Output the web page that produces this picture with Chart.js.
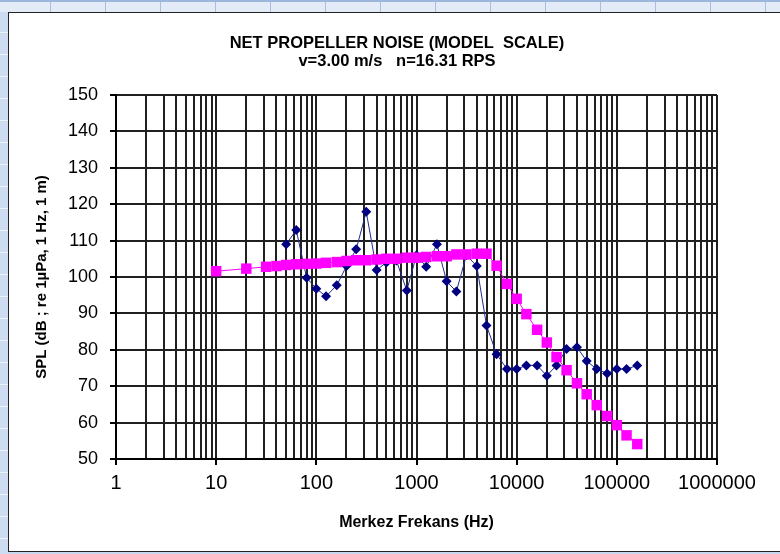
<!DOCTYPE html>
<html>
<head>
<meta charset="utf-8">
<title>Net Propeller Noise</title>
<script src="https://cdn.jsdelivr.net/npm/chart.js@4.4.1/dist/chart.umd.min.js"></script>
<style>
  html, body { margin: 0; padding: 0; width: 780px; height: 554px; overflow: hidden; }
  body { position: relative; background: #c8d8ee; }
  #sheetTop {
    position: absolute; left: 0; top: 0; width: 780px; height: 12px;
    background-color: #e3ebf6;
    background-image: repeating-linear-gradient(90deg, transparent 0 50px, #a9bfdf 50px 51px, transparent 51px 55px);
    border-top: 2px solid #9db6dc; box-sizing: border-box;
  }
  #sheetLeft {
    position: absolute; left: 0; top: 12px; width: 8px; height: 542px;
    background-color: #cddcf0;
    background-image: repeating-linear-gradient(180deg, transparent 0 20px, #edf2fa 20px 21px, transparent 21px 22px);
  }
  #frame {
    position: absolute; left: 8px; top: 12px; width: 800px; height: 540px;
    background: #ffffff; border: 1px solid #222; box-sizing: border-box;
  }
  #plot { position: absolute; left: 0; top: 0; }
</style>
</head>
<body>
<div id="sheetTop"></div>
<div id="sheetLeft"></div>
<div id="frame"></div>
<canvas id="plot" width="780" height="554"></canvas>
<script>
// One-third octave band centre frequencies (Hz) and sound pressure levels (dB)
const freqLimit = [10, 20, 31.5, 40, 50, 63, 80, 100, 125, 160, 200, 250, 315, 400, 500, 630, 800,
  1000, 1250, 1600, 2000, 2500, 3150, 4000, 5000, 6300, 8000, 10000, 12500, 16000, 20000, 25000,
  31500, 40000, 50000, 63000, 80000, 100000, 125000, 160000];
const splLimit = [101.6, 102.3, 102.8, 103.0, 103.3, 103.5, 103.6, 103.7, 103.9, 104.1, 104.4, 104.6,
  104.6, 104.8, 105.0, 105.0, 105.3, 105.3, 105.5, 105.7, 105.7, 106.2, 106.2, 106.4, 106.4, 103.1,
  98.1, 94.0, 89.8, 85.5, 82.0, 78.0, 74.4, 70.8, 67.8, 64.8, 61.8, 59.3, 56.5, 54.1];

const freqNet = [50, 63, 80, 100, 125, 160, 200, 250, 315, 400, 500, 630, 800, 1000, 1250, 1600,
  2000, 2500, 3150, 4000, 5000, 6300, 8000, 10000, 12500, 16000, 20000, 25000, 31500, 40000, 50000,
  63000, 80000, 100000, 125000, 160000];
const splNet = [109.0, 112.9, 99.8, 96.8, 94.7, 97.7, 103.0, 107.6, 117.9, 101.9, 104.0, 104.5, 96.3,
  106.0, 102.8, 109.0, 98.8, 96.0, 106.0, 103.0, 86.7, 78.8, 74.7, 74.7, 75.7, 75.7, 72.9, 75.7, 80.2,
  80.7, 76.9, 74.7, 73.5, 74.7, 74.7, 75.7];

// Axis ticks
const xMajorTicks = [1, 10, 100, 1000, 10000, 100000, 1000000];
const xTickLabels = ['1', '10', '100', '1000', '10000', '100000', '1000000'];
const yMin = 50, yMax = 150, yStep = 10;

const titleLines = ['NET PROPELLER NOISE (MODEL  SCALE)', 'v=3.00 m/s   n=16.31 RPS'];
const xTitle = 'Merkez Frekans (Hz)';
const yTitle = 'SPL (dB ; re 1\u00b5Pa, 1 Hz, 1 m)';

const FONT = "'Liberation Sans', Arial, sans-serif";

// every 1..9 multiple of each decade gets a grid line
const xGridValues = [];
xMajorTicks.forEach((d, i) => {
  if (i === xMajorTicks.length - 1) { xGridValues.push(d); return; }
  for (let m = 1; m <= 9; m++) xGridValues.push(d * m);
});
const isMajor = v => xMajorTicks.some(t => Math.abs(t - v) < 1e-6 * t);
const majorLabel = v => {
  const i = xMajorTicks.findIndex(t => Math.abs(t - v) < 1e-6 * t);
  return i >= 0 ? xTickLabels[i] : '';
};

const toPoints = (f, s) => f.map((x, i) => ({ x: x, y: s[i] }));

// two-line heading centred over the chart frame
const heading = {
  id: 'heading',
  afterDraw(chart) {
    const ctx = chart.ctx;
    ctx.save();
    ctx.fillStyle = '#000';
    ctx.font = 'bold 16.5px ' + FONT;
    ctx.textAlign = 'center';
    ctx.textBaseline = 'middle';
    titleLines.forEach((t, i) => ctx.fillText(t, 397, 43 + i * 18));
    ctx.restore();
  }
};

Chart.defaults.color = '#000';
Chart.defaults.font.family = FONT;

const gridColour = '#202020';

new Chart(document.getElementById('plot'), {
  type: 'scatter',
  data: {
    datasets: [
      {
        label: 'Limit curve',
        data: toPoints(freqLimit, splLimit),
        showLine: true,
        borderColor: '#ff00ff',
        backgroundColor: '#ff00ff',
        borderWidth: 1,
        pointStyle: 'rect',
        pointRadius: 7.4,
        pointBorderWidth: 0
      },
      {
        label: 'Net noise',
        data: toPoints(freqNet, splNet),
        showLine: true,
        borderColor: '#1f2b8f',
        backgroundColor: '#000080',
        pointBorderColor: '#000080',
        borderWidth: 1,
        pointStyle: 'rectRot',
        pointRadius: 5,
        pointBorderWidth: 0
      }
    ]
  },
  options: {
    responsive: false,
    animation: false,
    events: [],
    layout: { padding: { top: 95, left: 0, right: 63, bottom: 0 } },
    plugins: {
      legend: { display: false },
      tooltip: { enabled: false },
      title: { display: false }
    },
    scales: {
      x: {
        type: 'logarithmic',
        position: 'bottom',
        min: 1,
        max: 1000000,
        afterBuildTicks: s => { s.ticks = xGridValues.map(v => ({ value: v, major: isMajor(v) })); },
        afterFit: s => { s.height = 95; },
        ticks: {
          autoSkip: false,
          maxRotation: 0,
          minRotation: 0,
          padding: 6,
          color: '#000',
          font: { family: FONT, size: 20 },
          callback: v => majorLabel(v)
        },
        grid: {
          color: gridColour,
          lineWidth: 2,
          tickLength: 6,
          tickWidth: 2,
          tickColor: c => (c.tick && isMajor(c.tick.value)) ? '#000' : 'rgba(0,0,0,0)'
        },
        border: { color: '#000', width: 2 },
        title: {
          display: true,
          text: xTitle,
          color: '#000',
          font: { family: FONT, size: 16, weight: 'bold' },
          padding: { top: 0, bottom: 22 }
        }
      },
      y: {
        type: 'linear',
        position: 'left',
        min: yMin,
        max: yMax,
        afterFit: s => { s.width = 116; },
        ticks: {
          stepSize: yStep,
          padding: 12,
          color: '#000',
          font: { family: FONT, size: 18 }
        },
        grid: {
          color: gridColour,
          lineWidth: 2,
          tickLength: 6,
          tickWidth: 2,
          tickColor: '#000'
        },
        border: { color: '#000', width: 2 },
        title: {
          display: true,
          text: yTitle,
          color: '#000',
          font: { family: FONT, size: 15, weight: 'bold' },
          padding: { top: 33, bottom: 0 }
        }
      }
    }
  },
  plugins: [heading]
});
</script>
</body>
</html>
